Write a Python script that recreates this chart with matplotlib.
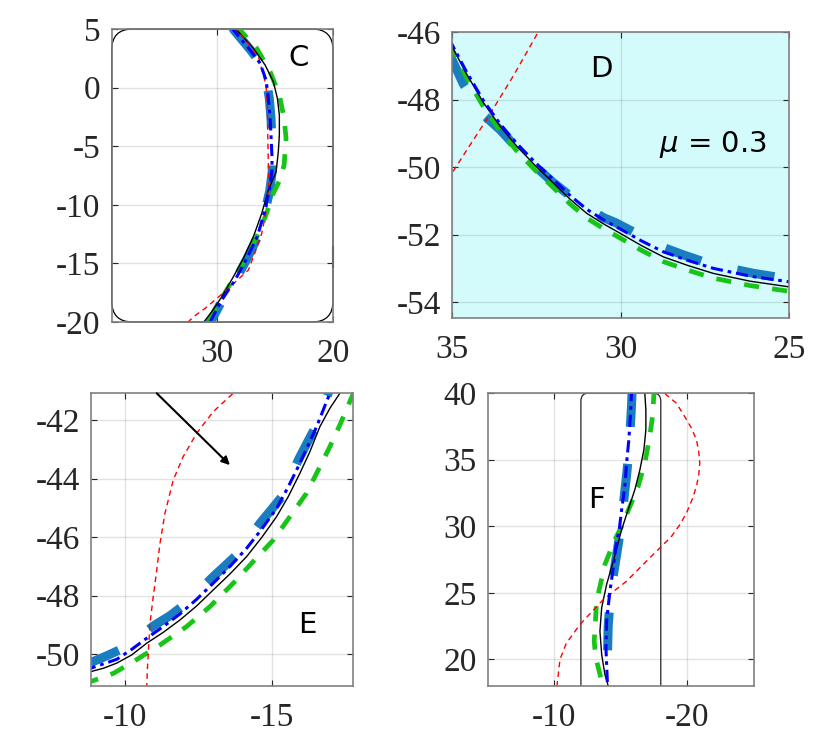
import matplotlib
matplotlib.use("Agg")
import matplotlib.pyplot as plt
from matplotlib.patches import FancyBboxPatch

plt.rcParams['font.family'] = ['Liberation Serif', 'DejaVu Serif']
plt.rcParams['font.size'] = 24
plt.rcParams['mathtext.fontset'] = 'dejavusans'

# ---------------- data ----------------
# Panel C
C_black_x = [28.45, 28.30, 26.87, 25.86, 25.15, 24.80, 24.63, 24.63, 24.72, 24.91, 25.58, 26.15, 26.87, 27.73, 28.59, 29.59, 30.46, 31.12, 31.4]
C_black_y = [5.2, 4.91, 3.35, 1.93, 0.50, -0.91, -2.34, -4.04, -5.47, -7.18, -8.74, -10.73, -12.72, -14.56, -16.13, -17.84, -19.12, -19.97, -20.3]
C_blue_x = [28.75, 28.59, 27.16, 26.29, 25.78, 25.58, 25.43, 25.34, 25.26, 25.28, 25.49, 25.95, 26.53, 27.44, 28.45, 29.6, 30.6, 30.85]
C_blue_y = [5.2, 4.91, 3.21, 2.07, 0.65, -0.91, -2.62, -4.33, -6.03, -7.18, -8.74, -10.73, -12.72, -14.56, -16.42, -18.12, -19.97, -20.3]
C_steel_x = [28.7, 28.55, 27.12, 26.25, 25.75, 25.5, 25.35, 25.28, 25.22, 25.25, 25.45, 25.9, 26.5, 27.4, 28.4, 29.55, 30.55, 30.8]
C_steel_y = [5.2, 4.91, 3.21, 2.07, 0.65, -0.91, -2.62, -4.33, -6.03, -7.18, -8.74, -10.73, -12.72, -14.56, -16.42, -18.12, -19.97, -20.3]
C_green_x = [28.35, 28.16, 26.58, 25.43, 24.63, 24.22, 24.05, 24.22, 24.55, 25.15, 25.8, 26.58, 27.4, 28.3, 29.2, 30.03, 30.9]
C_green_y = [5.2, 5.06, 3.35, 1.36, -0.63, -2.62, -4.33, -6.6, -7.8, -9.02, -10.9, -12.72, -14.3, -15.85, -17.3, -18.7, -20.1]
C_red_x = [28.5, 27.2, 26.44, 25.78, 25.66, 25.63, 25.58, 25.52, 25.7, 26.15, 26.7, 27.3, 28.5, 29.8, 31.03, 32.04, 32.6]
C_red_y = [5.2, 3.6, 2.64, 0.22, -1.77, -4.04, -6.6, -7.88, -10.2, -12.43, -14.0, -15.56, -16.65, -17.8, -18.83, -19.55, -20.1]
C_xticks = [30, 20]
C_yticks = [5, 0, -5, -10, -15, -20]

# Panel D
D_black_x = [35.1, 35.01, 34.565, 34.07, 33.576, 33.081, 32.537, 31.993, 31.499, 31.004, 30.509, 30.015, 29.372, 28.729, 27.987, 27.245, 26.157, 24.99, 24.9]
D_black_y = [-46.25, -46.41, -47.25, -48.09, -48.79, -49.38, -49.95, -50.47, -50.95, -51.37, -51.68, -51.96, -52.33, -52.66, -52.92, -53.15, -53.38, -53.55, -53.57]
D_blue_x = [35.1, 35.01, 34.565, 34.07, 33.576, 33.081, 32.537, 31.993, 31.499, 31.004, 30.509, 30.015, 29.372, 28.729, 27.987, 27.245, 26.157, 24.99, 24.9]
D_blue_y = [-46.2, -46.35, -47.19, -48.03, -48.72, -49.30, -49.86, -50.37, -50.84, -51.25, -51.56, -51.83, -52.19, -52.51, -52.77, -53.0, -53.23, -53.40, -53.42]
D_steel_x = [35.1, 34.66, 34.07, 33.58, 33.08, 32.54, 32.02, 31.5, 31.0, 30.5, 30.14, 29.37, 28.73, 28.14, 27.25, 26.04, 24.9]
D_steel_y = [-46.6, -47.55, -48.45, -48.89, -49.43, -49.97, -50.44, -50.85, -51.2, -51.5, -51.65, -52.05, -52.38, -52.6, -52.9, -53.15, -53.33]
D_green_x = [35.1, 35.01, 34.565, 34.07, 33.576, 33.081, 32.537, 31.993, 31.499, 31.004, 30.509, 30.015, 29.372, 28.729, 27.987, 27.245, 26.157, 24.99, 24.9]
D_green_y = [-46.35, -46.5, -47.36, -48.21, -48.92, -49.52, -50.09, -50.61, -51.09, -51.51, -51.82, -52.1, -52.47, -52.8, -53.06, -53.29, -53.51, -53.68, -53.7]
D_red_x = [35.3, 35.0, 34.5, 33.97, 33.18, 32.44, 32.2]
D_red_y = [-50.6, -50.18, -49.4, -48.59, -47.3, -46.0, -45.5]
D_xticks = [35, 30, 25]
D_yticks = [-46, -48, -50, -52, -54]

# Panel E
E_black_x = [-8.6, -8.832, -9.263, -9.717, -10.227, -10.737, -11.304, -11.871, -12.438, -13.004, -13.571, -14.138, -14.649, -15.159, -15.556, -15.952, -16.293, -16.633, -16.973, -17.313, -17.45]
E_black_y = [-50.67, -50.59, -50.475, -50.30, -50.02, -49.62, -49.247, -48.826, -48.348, -47.80, -47.256, -46.665, -46.016, -45.30, -44.617, -43.82, -43.081, -42.228, -41.602, -41.09, -40.8]
E_blue_x = [-8.6, -8.832, -9.717, -10.227, -10.737, -11.304, -11.871, -12.438, -13.004, -13.571, -14.138, -14.649, -15.159, -15.556, -15.952, -16.52, -16.973, -17.15]
E_blue_y = [-50.55, -50.475, -50.17, -49.83, -49.45, -49.05, -48.62, -48.12, -47.57, -47.0, -46.38, -45.73, -45.02, -44.28, -43.48, -42.23, -41.09, -40.7]
E_steel_x = [-8.6, -8.832, -9.376, -9.943, -10.454, -10.964, -11.531, -12.041, -12.494, -12.948, -13.367, -13.798, -14.195, -14.592, -14.989, -15.385, -15.635, -15.896, -16.179, -16.463, -16.689, -16.916, -17.05]
E_steel_y = [-50.37, -50.28, -50.05, -49.79, -49.43, -49.03, -48.68, -48.29, -47.86, -47.40, -47.01, -46.61, -46.07, -45.53, -45.05, -44.56, -43.96, -43.37, -42.82, -42.28, -41.66, -41.09, -40.75]
E_green_x = [-8.6, -8.832, -9.603, -10.283, -11.190, -12.097, -12.891, -13.685, -14.365, -15.045, -15.612, -16.179, -16.576, -16.973, -17.313, -17.653, -17.823, -17.95]
E_green_y = [-51.02, -50.93, -50.65, -50.25, -49.68, -49.05, -48.37, -47.57, -46.83, -46.10, -45.30, -44.50, -43.71, -42.91, -42.17, -41.37, -40.98, -40.7]
E_red_x = [-10.73, -10.74, -10.76, -10.79, -10.85, -10.96, -11.08, -11.19, -11.36, -11.64, -11.98, -12.44, -13.0, -13.68, -14.1]
E_red_y = [-51.5, -51.07, -50.53, -49.96, -48.94, -48.03, -47.12, -46.21, -45.18, -44.05, -43.25, -42.45, -41.72, -41.09, -40.75]
E_arrow_start = (-11.08, -41.09)
E_arrow_end = (-13.57, -43.54)
E_xticks = [-10, -15]
E_yticks = [-42, -44, -46, -48, -50]

# Panel F
F_black_x = [-16.8, -16.8, -16.88, -16.88, -16.73, -16.43, -16.05, -15.55, -15.06, -14.43, -13.93, -13.56, -13.43, -13.56, -13.8, -14.05, -14.15]
F_black_y = [40.3, 39.98, 38.73, 37.23, 35.73, 34.23, 32.73, 31.24, 29.74, 27.36, 25.62, 23.87, 22.12, 20.37, 18.88, 18.0, 17.5]
F_blue_x = [-15.82, -15.8, -15.73, -15.6, -15.43, -15.3, -15.06, -14.88, -14.68, -14.43, -14.18, -13.93, -13.88, -14.0, -14.03]
F_blue_y = [40.3, 39.98, 38.48, 36.48, 34.73, 32.98, 31.24, 29.74, 28.86, 26.87, 25.12, 22.87, 20.87, 18.0, 17.5]
F_steel_x = [-15.85, -15.8, -15.63, -15.45, -15.25, -15.06, -14.8, -14.5, -14.23, -14.05, -14.0, -14.05, -14.1]
F_steel_y = [40.3, 39.0, 36.03, 34.0, 32.2, 30.36, 28.6, 26.7, 24.92, 22.5, 20.5, 19.38, 17.5]
F_green_x = [-17.5, -17.48, -17.38, -17.13, -16.8, -16.3, -15.68, -15.06, -14.55, -13.8, -13.18, -13.0, -13.1, -13.43, -13.68, -13.8]
F_green_y = [40.3, 39.85, 38.23, 36.48, 34.73, 32.98, 31.48, 29.98, 28.99, 27.12, 24.37, 21.37, 20.2, 18.88, 18.0, 17.5]
F_red_x = [-17.8, -18.43, -19.18, -19.8, -20.31, -20.68, -20.85, -20.93, -20.85, -20.68, -20.35, -19.93, -19.43, -18.81, -18.06, -17.05, -15.43, -13.68, -11.93, -10.9, -10.43, -10.2, -10.18]
F_red_y = [40.5, 39.85, 39.23, 38.22, 37.36, 36.48, 35.6, 34.73, 33.86, 32.98, 31.99, 30.99, 30.11, 29.24, 28.49, 27.5, 25.87, 24.49, 22.62, 21.2, 20.0, 18.0, 17.5]
F_xticks = [-10, -20]
F_yticks = [20, 25, 30, 35, 40]

mu_label = r"$\mu$ = 0.3"

# ---------------- style ----------------
STEEL = "#1a7dc0"
GREEN = "#17c417"
BLUE = "#0000ff"
RED = "#ff0000"
CYAN_BG = "#d4fbfb"

fig = plt.figure(figsize=(8.3, 7.4), dpi=100)

axC = fig.add_axes([0.1346, 0.5649, 0.2666, 0.3959])
axD = fig.add_axes([0.5446, 0.5703, 0.4060, 0.3865])
axE = fig.add_axes([0.1096, 0.0730, 0.3157, 0.3959])
axF = fig.add_axes([0.5876, 0.0730, 0.3208, 0.3959])

LETTERFONT = dict(family="DejaVu Sans", size=21)


def style(ax, xticks, yticks, xlim, ylim):
    ax.set_xlim(*xlim)
    ax.set_ylim(*ylim)
    ax.set_xticks(xticks)
    ax.set_yticks(yticks)
    ax.set_xticklabels([str(v) for v in xticks])
    ax.set_yticklabels([str(v) for v in yticks])
    ax.tick_params(direction="in", length=4, width=0.8, top=True, right=True,
                   color="#262626", labelcolor="#262626", labelsize=24)
    ax.tick_params(axis="x", pad=12)
    ax.tick_params(axis="y", pad=8)
    ax.grid(True, color="0.15", alpha=0.13, lw=1.0)
    ax.set_axisbelow(True)
    for s in ax.spines.values():
        s.set_color("#808080")
        s.set_linewidth(1.2)


def curves(ax, sx, sy, gx, gy, kx, ky, rx, ry, bx, by):
    ax.plot(sx, sy, color=STEEL, lw=6.5, ls=(0, (4.2, 4.1)), solid_capstyle="butt")
    ax.plot(gx, gy, color=GREEN, lw=3.4, ls=(0, (3.2, 2.8)))
    ax.plot(kx, ky, color="black", lw=1.0)
    ax.plot(rx, ry, color=RED, lw=1.0, ls=(0, (4, 3)))
    ax.plot(bx, by, color=BLUE, lw=2.2, ls=(0, (4, 1.6, 1.2, 1.6)))


# Panel C
style(axC, C_xticks, C_yticks, (39.1, 20), (-20, 5))
rectC = FancyBboxPatch((20, -20), 19.1, 25, boxstyle="round,pad=0,rounding_size=1.8",
                       fc="none", ec="black", lw=0.9, clip_on=False, zorder=1.5)
axC.add_patch(rectC)
axC.plot([20, 20], [-13.6, -15.3], color="black", lw=1.5, clip_on=False)
curves(axC, C_steel_x, C_steel_y, C_green_x, C_green_y, C_black_x, C_black_y,
       C_red_x, C_red_y, C_blue_x, C_blue_y)
axC.text(23.0, 2.5, "C", ha="center", va="center", **LETTERFONT)

# Panel D
style(axD, D_xticks, D_yticks, (35, 25), (-54.47, -46))
axD.set_facecolor(CYAN_BG)
curves(axD, D_steel_x, D_steel_y, D_green_x, D_green_y, D_black_x, D_black_y,
       D_red_x, D_red_y, D_blue_x, D_blue_y)
axD.text(30.56, -47.1, "D", ha="center", va="center", **LETTERFONT)
axD.text(27.25, -49.33, mu_label, ha="center", va="center", **LETTERFONT)

# Panel E
style(axE, E_xticks, E_yticks, (-8.84, -17.76), (-51.08, -41.08))
curves(axE, E_steel_x, E_steel_y, E_green_x, E_green_y, E_black_x, E_black_y,
       E_red_x, E_red_y, E_blue_x, E_blue_y)
axE.annotate("", xy=E_arrow_end, xytext=E_arrow_start,
             arrowprops=dict(arrowstyle="-|>", color="black", lw=1.5, mutation_scale=12,
                             shrinkA=0, shrinkB=0))
axE.text(-16.19, -49.0, "E", ha="center", va="center", **LETTERFONT)

# Panel F
style(axF, F_xticks, F_yticks, (-5, -25), (18, 40))
rectF = FancyBboxPatch((-18, 10), 6, 30, boxstyle="round,pad=0,rounding_size=0.6",
                       fc="none", ec="#222222", lw=0.9, clip_on=True, zorder=1.5)
axF.add_patch(rectF)
curves(axF, F_steel_x, F_steel_y, F_green_x, F_green_y, F_black_x, F_black_y,
       F_red_x, F_red_y, F_blue_x, F_blue_y)
axF.text(-13.18, 32.0, "F", ha="center", va="center", **LETTERFONT)

fig.savefig("out.png", dpi=100)
